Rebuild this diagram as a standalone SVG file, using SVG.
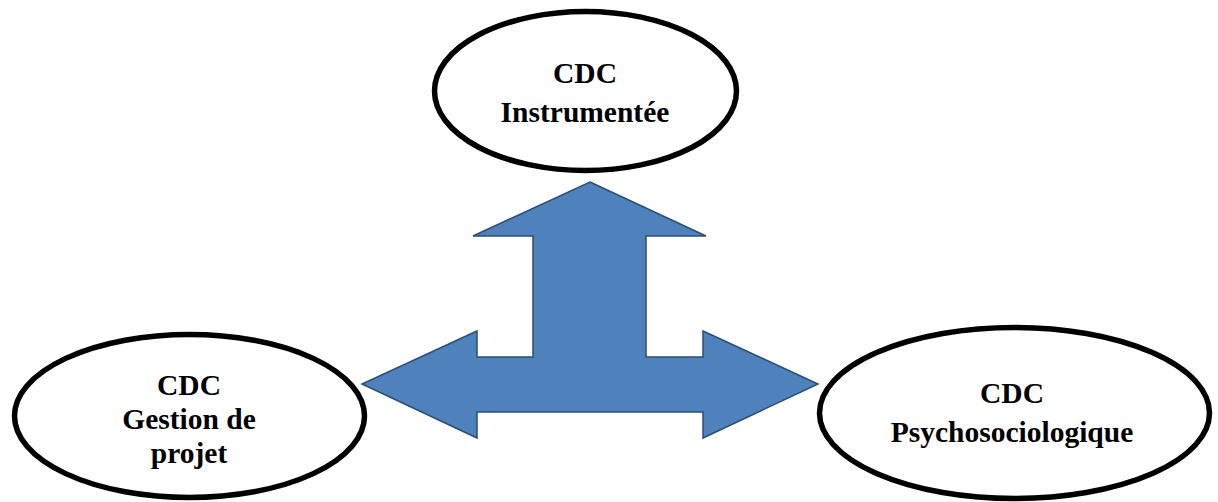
<svg xmlns="http://www.w3.org/2000/svg" width="1218" height="502" viewBox="0 0 1218 502">
  <style>
    .node { fill: #ffffff; stroke: #000000; stroke-width: 5.5; }
    .label { font-family: "Liberation Serif", "Times New Roman", serif; font-weight: bold; font-size: 29.5px; fill: #000000; text-anchor: middle; }
    .arrow { fill: #4F81BD; stroke: #2C4D75; stroke-width: 1.5; stroke-linejoin: miter; }
  </style>
  <rect width="1218" height="502" fill="#ffffff"/>

  <!-- three-way block arrow linking the three specifications -->
  <g id="connectors">
    <polygon class="arrow" points="590,182 706,236 646,236 646,357 703,357 703,331 818,384 703,438 703,412 477,412 477,438 362,384 477,331 477,357 533,357 533,236 473,236"/>
  </g>

  <g id="cdc-instrumentee">
    <ellipse class="node" cx="585.5" cy="91" rx="151" ry="79.5"/>
    <text class="label" x="585" y="83">CDC</text>
    <text class="label" x="585" y="122">Instrumentée</text>
  </g>

  <g id="cdc-gestion-projet">
    <ellipse class="node" cx="189.5" cy="416" rx="175" ry="81.5"/>
    <text class="label" x="189" y="395">CDC</text>
    <text class="label" x="189" y="429">Gestion de</text>
    <text class="label" x="189" y="463">projet</text>
  </g>

  <g id="cdc-psychosociologique">
    <ellipse class="node" cx="1014.5" cy="413" rx="195" ry="85.5"/>
    <text class="label" x="1012" y="403">CDC</text>
    <text class="label" x="1012" y="442">Psychosociologique</text>
  </g>
</svg>
